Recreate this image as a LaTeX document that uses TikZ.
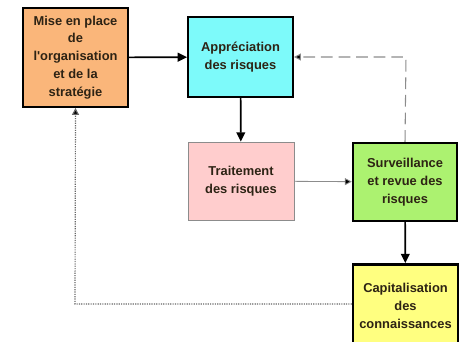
\documentclass[tikz,border=0pt]{standalone}
\usepackage{fontspec}
\setmainfont{Liberation Sans}
\usetikzlibrary{arrows.meta}

\definecolor{orangebox}{RGB}{250,182,122}
\definecolor{cyanbox}{RGB}{125,250,250}
\definecolor{pinkbox}{RGB}{255,205,205}
\definecolor{greenbox}{RGB}{172,242,112}
\definecolor{yellowbox}{RGB}{255,255,128}
\definecolor{boxtext}{RGB}{45,35,20}

\tikzset{
  etape/.style={draw=black, line width=1.6pt, align=center, inner sep=2pt,
    font=\fontsize{11}{15.2}\selectfont\bfseries, text=boxtext},
  fleche/.style={line width=1.4pt, -{Triangle[length=8pt,width=7.5pt]}},
}

\begin{document}
\begin{tikzpicture}[x=0.03cm,y=-0.03cm]
    \useasboundingbox (0,0) rectangle (459,341);
    \node[etape, fill=orangebox, minimum width=3.15cm, minimum height=2.97cm] (O) at (75.5,57.5) {Mise en place\\de\\l\textquotesingle organisation\\et de la\\stratégie};
    \node[etape, fill=cyanbox, minimum width=3.15cm, minimum height=2.4cm] (A) at (240.5,57) {Appréciation\\des risques};
    \node[etape, fill=pinkbox, draw=black!45, line width=0.6pt, minimum width=3.18cm, minimum height=2.34cm] (T) at (241,181) {Traitement\\des risques};
    \node[etape, fill=greenbox, line width=2pt, minimum width=3.12cm, minimum height=2.34cm] (S) at (405,182) {Surveillance\\et revue des\\risques};
    \node[etape, fill=yellowbox, line width=2pt, minimum width=3.15cm, minimum height=2.5cm] (C) at (405.5,306) {Capitalisation\\des\\connaissances};
    \coordinate (SA) at (406,57);
    \coordinate (CO) at (75,304);
    \draw[fleche] (O) -- (A);
    \draw[fleche] (A) -- (T);
    \draw[black!45, line width=0.7pt, -{Triangle[length=6pt,width=6pt,fill=black]}] (T) -- (S);
    \draw[fleche] (S) -- (C);
    \draw[black!45, line width=0.9pt, dash pattern=on 10pt off 5pt, -{Triangle[length=6pt,width=6pt,fill=black]}] (S.north) -- (SA) -- (A.east);
    \draw[black!60, line width=1pt, densely dotted, -{Triangle[length=6pt,width=6pt,fill=black]}] (C.west |- CO) -- (CO) -- (O.south);
\end{tikzpicture}
\end{document}
